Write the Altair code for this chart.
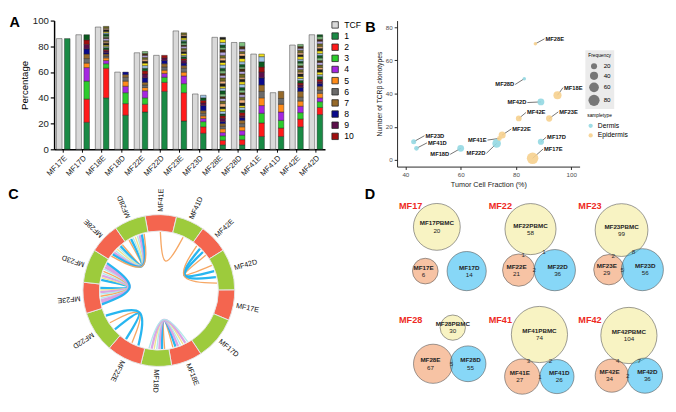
import math
import numpy as np
import pandas as pd
import altair as alt

FONT = "Liberation Sans"

# ---------------- Panel A : TCF and clone percentages ----------------
SAMPLES = ["MF17E", "MF17D", "MF18E", "MF18D", "MF22E", "MF22D", "MF23E",
           "MF23D", "MF28E", "MF28D", "MF41E", "MF41D", "MF42E", "MF42D"]
TCF = [86, 89, 95, 60, 75, 73, 92, 43, 87, 83, 74, 44, 81, 89]

CLONES_MF17E = [86]
CLONES_MF17D = [21, 18, 14, 10.5, 3.5, 3.5, 3.5, 4, 3.5, 3.5, 4]
CLONES_MF18E = [40, 23, 3.5, 2.5, 2, 1.5, 1.5, 1, 1.5, 1, 1.5, 1, 1, 1.5, 1, 1, 1.5,
                1, 1, 1.5, 1, 1, 1.5, 1, 1.5]
CLONES_MF18D = [26.5, 9, 8.5, 5, 4, 3, 2, 2]
CLONES_MF22E = [29, 6, 5, 5.5, 2.5, 2, 2, 3.5, 3, 2.5, 2, 2, 2, 1.5, 1.5, 1.5, 1.5, 1.5, 1.5]
CLONES_MF22D = [45, 7, 4, 3, 2.5, 2.5, 2.5, 2.5, 2, 2]
CLONES_MF23E = [22, 22, 7, 6, 3, 3, 2, 2, 2, 1.5, 1.5, 1, 1.5, 1.5, 1, 1.5, 1.5, 1, 1.5,
                1.5, 1, 1.5, 1.5, 1, 1.5]
CLONES_MF23D = [12.5, 5, 4, 2.5, 2, 2, 2, 4, 2, 2, 2, 2]
CLONES_MF28E = [3.5, 3.5, 3.5, 2.5, 3, 2, 2, 1.5, 2.5, 2, 1.5, 2, 2, 1.5, 2.5, 2, 2, 1.5,
                2, 2.5, 2, 1.5, 2, 2, 2.5, 2, 1.5, 2, 2, 2.5, 2, 1.5, 2, 2, 2.5, 2, 1.5,
                2, 2, 2.5, 1.5]
CLONES_MF28D = [3.5, 4, 3.5, 3.5, 3, 2.5, 2.5, 2, 1.5, 2.5, 2, 2, 1.5, 2, 2.5, 2, 2, 1.5,
                2, 2, 2.5, 2, 2, 1.5, 2.5, 2, 2, 1.5, 2, 2, 2.5, 2, 2, 1.5, 2, 2, 3]
CLONES_MF41E = [10, 10.5, 7.5, 6, 6, 5, 5, 5.5, 4.5, 4, 4, 4, 2]
CLONES_MF41D = [10, 6.5, 6, 6.5, 6, 4.5, 5.5]
CLONES_MF42E = [17.5, 6, 5, 5, 4, 3, 4.5, 3, 2, 1.5, 2, 1.5, 1.5, 2, 1.5, 2, 1.5, 1.5, 2,
                1.5, 1.5, 2, 1.5, 1.5, 2, 1.5, 1.5, 1.5]
CLONES_MF42D = [27, 5.5, 4.5, 3, 3.5, 2.5, 3, 2, 1.5, 2, 2, 1.5, 2, 2, 1.5, 2, 2, 1.5, 2,
                2, 1.5, 2, 2, 1.5, 2, 2, 1.5, 2, 1.5]

CLONES = {
    "MF17E": CLONES_MF17E, "MF17D": CLONES_MF17D, "MF18E": CLONES_MF18E,
    "MF18D": CLONES_MF18D, "MF22E": CLONES_MF22E, "MF22D": CLONES_MF22D,
    "MF23E": CLONES_MF23E, "MF23D": CLONES_MF23D, "MF28E": CLONES_MF28E,
    "MF28D": CLONES_MF28D, "MF41E": CLONES_MF41E, "MF41D": CLONES_MF41D,
    "MF42E": CLONES_MF42E, "MF42D": CLONES_MF42D,
}

TCF_COLOR = "#d9d9d9"
CLONE_COLORS = ["#1a8a45", "#ff1a1a", "#2ccc2c", "#a526e0", "#ff8c1a",
                "#6b6b6b", "#966a2a", "#0a0a8c", "#5c0f4a", "#a10f0f"]
EXTRA_COLORS = ["#0b5a1e", "#9fc5e8", "#f2e21a", "#1c1c1c", "#f2b27c",
                "#6e6a1f", "#b7a7e0", "#4a2c0f", "#7fbf7f"]

# ---------------- Panel B ----------------
B_NCLONO = [1, 11, 39, 7, 15, 10, 25, 11, 70, 49, 13, 7, 25, 35]
B_TYPE = ["Epidermis" if s.endswith("E") else "Dermis" for s in SAMPLES]

# ---------------- Panel C : chord diagram ----------------
C_ORDER = ["MF41E", "MF41D", "MF42E", "MF42D", "MF17E", "MF17D", "MF18E",
           "MF18D", "MF22E", "MF22D", "MF23E", "MF23D", "MF28E", "MF28D"]
C_SPAN = [24, 22, 22.4, 31.7, 23.4, 33.5, 23.8, 23.5, 27, 31.8, 23.8, 25.7, 23.4, 24.1]

ORANGE, BLUE, YELLOW, CYAN, LAVENDER = "#f6a25c", "#1cb2ef", "#efe28a", "#aee8ea", "#d9a0e3"
LINKS_MF41 = [ORANGE]
LINKS_MF42 = [ORANGE, BLUE, BLUE, ORANGE]
LINKS_MF18 = [ORANGE, BLUE, LAVENDER, CYAN, YELLOW, LAVENDER, CYAN]
LINKS_MF22 = [BLUE, ORANGE, BLUE]
LINKS_MF23 = [BLUE, YELLOW, LAVENDER, CYAN, ORANGE, CYAN, LAVENDER, LAVENDER, BLUE]
LINKS_MF28 = [ORANGE, BLUE, CYAN, YELLOW, CYAN, LAVENDER, BLUE, ORANGE]
C_LINKS = {"MF41": LINKS_MF41, "MF42": LINKS_MF42, "MF18": LINKS_MF18,
           "MF22": LINKS_MF22, "MF23": LINKS_MF23, "MF28": LINKS_MF28}

# ---------------- Panel D : Venn diagrams ----------------
VENN_NAMES = ["MF17", "MF22", "MF23", "MF28", "MF41", "MF42"]
VENN_PBMC = [20, 58, 99, 30, 74, 104]
VENN_E = [6, 21, 29, 67, 27, 34]
VENN_D = [14, 36, 56, 55, 26, 36]
VENN_PE = [0, 1, 2, 0, 3, 4]
VENN_PD = [0, 1, 8, 0, 2, 7]
VENN_ED = [0, 2, 5, 5, 1, 2]


def letter(t, align, offset):
    return alt.TitleParams(t, orient="left", anchor="end", angle=0, align=align,
                           baseline="top", offset=offset, fontSize=15, fontWeight="bold",
                           font=FONT, color="#000")


# ======================= Panel A chart =======================
def clone_key(i):
    return str(i) if i <= 10 else "x%d" % ((i - 11) % len(EXTRA_COLORS))


rowsA = []
for s, t in zip(SAMPLES, TCF):
    rowsA.append({"sample": s, "kind": "TCF", "y0": 0.0, "y1": float(t), "key": "TCF", "idx": 0})
    cum = 0.0
    for i, v in enumerate(CLONES[s], start=1):
        rowsA.append({"sample": s, "kind": "clone", "y0": cum, "y1": cum + v,
                      "key": clone_key(i), "idx": i})
        cum += v
dfA = pd.DataFrame(rowsA)
keysA = ["TCF"] + [str(i) for i in range(1, 11)] + ["x%d" % j for j in range(len(EXTRA_COLORS))]
colorsA = [TCF_COLOR] + CLONE_COLORS + EXTRA_COLORS

chartA = alt.Chart(dfA).mark_bar(stroke="#222222", strokeWidth=0.45).encode(
    x=alt.X("sample:N", sort=SAMPLES,
            scale=alt.Scale(paddingInner=0.3, paddingOuter=0.12),
            axis=alt.Axis(title=None, labelAngle=-45, labelFontSize=8, labelPadding=2,
                          tickSize=3, domainWidth=1.5, domainColor="#000",
                          tickColor="#000", labelColor="#222")),
    xOffset=alt.XOffset("kind:N", sort=["TCF", "clone"], scale=alt.Scale(paddingInner=0.3)),
    y=alt.Y("y0:Q", scale=alt.Scale(domain=[0, 100], nice=False),
            axis=alt.Axis(title="Percentage", values=[0, 20, 40, 60, 80, 100],
                          labelFontSize=10, titleFontSize=10, titleFontWeight="normal",
                          domainWidth=1.5, domainColor="#000", tickColor="#000",
                          tickWidth=1.2, tickSize=4, labelColor="#222", titlePadding=3)),
    y2="y1:Q",
    color=alt.Color("key:N", scale=alt.Scale(domain=keysA, range=colorsA),
                    legend=alt.Legend(values=["TCF"] + [str(i) for i in range(1, 11)],
                                      title=None, symbolType="square", symbolSize=45,
                                      symbolStrokeColor="#222", symbolStrokeWidth=0.8,
                                      labelFontSize=9, rowPadding=0.6, offset=6,
                                      padding=0, labelOffset=5)),
).properties(width=282, height=134, title=letter("A", "left", 0))

# ======================= Panel B chart =======================
B_LABEL_END = {
    "MF17E": (3.8, 5.6), "MF17D": (1.9, 2.7), "MF18E": (2.0, 4.6), "MF18D": (-3.8, -3.6),
    "MF22E": (3.3, 3.7), "MF22D": (-3.7, -6.0), "MF23E": (3.3, 4.0), "MF23D": (3.9, 3.6),
    "MF28E": (3.3, 3.0), "MF28D": (-3.3, -3.5), "MF41E": (-4.3, -1.0), "MF41D": (3.8, 3.3),
    "MF42E": (2.6, 3.6), "MF42D": (-4.9, -0.4),
}
dfB = pd.DataFrame({"sample": SAMPLES, "x": TCF, "y": B_NCLONO,
                    "freq": [CLONES[s][0] for s in SAMPLES], "type": B_TYPE})
dfB["lx"] = [x + B_LABEL_END[s][0] for s, x in zip(dfB["sample"], dfB["x"])]
dfB["ly"] = [y + B_LABEL_END[s][1] for s, y in zip(dfB["sample"], dfB["y"])]
dfB["side"] = [1 if B_LABEL_END[s][0] > 0 else -1 for s in dfB["sample"]]

W_B, H_B = 190, 152
axBx = alt.Axis(title="Tumor Cell Fraction (%)", values=[40, 60, 80, 100], labelFontSize=6.5,
                titleFontSize=7.5, titleFontWeight="normal", labelColor="#4d4d4d",
                titleColor="#222", domainColor="#222", tickColor="#222", tickSize=3,
                titlePadding=3)
axBy = alt.Axis(title="Number of TCRβ clonotypes", values=[0, 20, 40, 60, 80],
                labelFontSize=6.5, titleFontSize=7, titleFontWeight="normal",
                labelColor="#4d4d4d", titleColor="#222", domainColor="#222",
                tickColor="#222", tickSize=3, titlePadding=3)
scBx = alt.Scale(domain=[37, 103], nice=False, zero=False)
scBy = alt.Scale(domain=[-4, 84], nice=False, zero=False)

ptsB = alt.Chart(dfB).mark_circle(opacity=0.9).encode(
    x=alt.X("x:Q", scale=scBx, axis=axBx),
    y=alt.Y("y:Q", scale=scBy, axis=axBy),
    size=alt.Size("freq:Q", scale=alt.Scale(domain=[0, 90], range=[8, 150]),
                  legend=alt.Legend(title="Frequency", values=[20, 40, 60, 80],
                                    titleFontSize=5, titleFontWeight="normal",
                                    labelFontSize=6.5, symbolFillColor="#777777",
                                    symbolStrokeWidth=0, symbolOpacity=1,
                                    fillColor="#ebebeb", padding=3,
                                    orient="none", legendX=W_B + 6, legendY=31)),
    color=alt.Color("type:N", scale=alt.Scale(domain=["Dermis", "Epidermis"],
                                              range=["#93d8e2", "#f6d08e"]),
                    legend=alt.Legend(title="sampletype", titleFontSize=5,
                                      titleFontWeight="normal", labelFontSize=7,
                                      symbolType="circle", symbolSize=20, padding=2,
                                      orient="none", legendX=W_B + 6, legendY=94)),
    order=alt.Order("freq:Q", sort="descending"),
)
rulesB = alt.Chart(dfB).mark_rule(color="#111", strokeWidth=0.6).encode(
    x=alt.X("x:Q", scale=scBx, axis=axBx), y=alt.Y("y:Q", scale=scBy, axis=axBy),
    x2="lx:Q", y2="ly:Q")
txtR = alt.Chart(dfB).transform_filter("datum.side > 0").mark_text(
    align="left", baseline="middle", dx=1, fontSize=6, fontWeight="bold", color="#111").encode(
    x=alt.X("lx:Q", scale=scBx, axis=axBx), y=alt.Y("ly:Q", scale=scBy, axis=axBy),
    text="sample:N")
txtL = alt.Chart(dfB).transform_filter("datum.side < 0").mark_text(
    align="right", baseline="middle", dx=-1, fontSize=6, fontWeight="bold", color="#111").encode(
    x=alt.X("lx:Q", scale=scBx, axis=axBx), y=alt.Y("ly:Q", scale=scBy, axis=axBy),
    text="sample:N")
chartB = alt.layer(rulesB, ptsB, txtR, txtL).properties(
    width=W_B, height=H_B, title=letter("B", "left", 0))

# ======================= Panel C chart =======================
W_C, H_C = 218, 214
R_OUT, R_IN, R_LAB, START_DEG = 79, 62, 82, -10.5
tot = float(sum(C_SPAN))
cum = np.concatenate([[0.0], np.cumsum(C_SPAN)])
seg_start = START_DEG + 360.0 * cum[:-1] / tot
seg_end = START_DEG + 360.0 * cum[1:] / tot
mid = (seg_start + seg_end) / 2
dfRing = pd.DataFrame({"seg": C_ORDER, "span": C_SPAN, "idx": range(len(C_ORDER)),
                       "col": ["#f4654f" if s.endswith("E") else "#9dcb3c" for s in C_ORDER],
                       "ang": [(m - 90) % 360 for m in mid]})

rowsL = []
lid = 0
for pat, cols in C_LINKS.items():
    iE = C_ORDER.index(pat + "E")
    iD = C_ORDER.index(pat + "D")
    b = seg_end[iE]
    n = len(cols)
    for k, c in enumerate(cols):
        f = 0.12 + 0.76 * (k + 0.5) / n
        aE = math.radians(b - f * C_SPAN[iE] * 360.0 / tot)
        aD = math.radians(b + f * C_SPAN[iD] * 360.0 / tot)
        ab = math.radians(b)
        rc = 0.28 * R_IN
        pts = [(R_IN - 1) * math.sin(aE), (R_IN - 1) * math.cos(aE),
               rc * math.sin(ab), rc * math.cos(ab),
               (R_IN - 1) * math.sin(aD), (R_IN - 1) * math.cos(aD)]
        w = 2.4 if c in (BLUE, LAVENDER) else 1.4
        for j in range(3):
            rowsL.append({"link": lid, "k": j, "x": pts[2 * j], "y": pts[2 * j + 1],
                          "col": c, "w": w})
        lid += 1
dfLinks = pd.DataFrame(rowsL)

thetaC = alt.Theta("span:Q", stack=True,
                   scale=alt.Scale(range=[math.radians(START_DEG),
                                          math.radians(START_DEG) + 2 * math.pi]))
ring = alt.Chart(dfRing).mark_arc(outerRadius=R_OUT, innerRadius=R_IN,
                                  stroke="#e6e6e6", strokeWidth=1).encode(
    theta=thetaC, order=alt.Order("idx:Q"), color=alt.Color("col:N", scale=None))
ringTxt = alt.Chart(dfRing).mark_text(radius=R_LAB, align="left", baseline="middle",
                                      fontSize=7.5, color="#111").encode(
    theta=thetaC, order=alt.Order("idx:Q"), text="seg:N",
    angle=alt.Angle("ang:Q", scale=None))
links = alt.Chart(dfLinks).mark_line(interpolate="basis", opacity=0.95).encode(
    x=alt.X("x:Q", scale=alt.Scale(domain=[-W_C / 2, W_C / 2], nice=False, zero=False), axis=None),
    y=alt.Y("y:Q", scale=alt.Scale(domain=[-H_C / 2, H_C / 2], nice=False, zero=False), axis=None),
    detail="link:N", order="k:Q",
    color=alt.Color("col:N", scale=None),
    strokeWidth=alt.StrokeWidth("w:Q", scale=None))
chartC = alt.layer(links, ring, ringTxt).properties(
    width=W_C, height=H_C, title=letter("C", "right", 26))

# ======================= Panel D chart =======================
W_D, H_D = 280, 214
R_REF = 33.0
P_FILL, E_FILL, D_FILL = "#f2e88c", "#f08c50", "#19b3ef"


def venn_layout(nP, nE, nD, nPE, nPD, nED, R):
    tP, tE, tD = nP + nPE + nPD, nE + nPE + nED, nD + nPD + nED
    m = float(max(tP, tE, tD))
    rP, rE, rD = (R * math.sqrt(t / m) for t in (tP, tE, tD))

    def dist(r1, r2, n):
        return r1 + r2 - (2 + 2.5 * math.sqrt(n)) if n > 0 else r1 + r2 + 5

    dED, dPE, dPD = dist(rE, rD, nED), dist(rP, rE, nPE), dist(rP, rD, nPD)
    a = (dPE ** 2 - dPD ** 2 + dED ** 2) / (2 * dED)
    h = math.sqrt(max(dPE ** 2 - a ** 2, 0))
    cen = {"P": (a, -h), "E": (0.0, 0.0), "D": (dED, 0.0)}
    rad = {"P": rP, "E": rE, "D": rD}
    return cen, rad, (dED, dPE, dPD)


circ, names, counts, inters, titles = [], [], [], [], []
cw, ch = W_D / 3.0, H_D / 2.0
for vi, v in enumerate(VENN_NAMES):
    args = (VENN_PBMC[vi], VENN_E[vi], VENN_D[vi], VENN_PE[vi], VENN_PD[vi], VENN_ED[vi])
    R = R_REF
    while True:
        cen, rad, (dED, dPE, dPD) = venn_layout(*args, R)
        x0 = min(cen[k][0] - rad[k] for k in cen); x1 = max(cen[k][0] + rad[k] for k in cen)
        y0 = min(cen[k][1] - rad[k] for k in cen); y1 = max(cen[k][1] + rad[k] for k in cen)
        if (y1 - y0) <= 98 and (x1 - x0) <= 82:
            break
        R -= 0.5
    col, row = vi % 3, vi // 3
    ox = col * cw + cw / 2 + 6 - (x0 + x1) / 2
    oy = row * ch + ch / 2 + 8 - (y0 + y1) / 2
    C = {k: (cen[k][0] + ox, cen[k][1] + oy) for k in cen}
    nums = {"P": VENN_PBMC[vi], "E": VENN_E[vi], "D": VENN_D[vi]}
    lbl = {"P": v + "PBMC", "E": v + "E", "D": v + "D"}
    fills = {"P": P_FILL, "E": E_FILL, "D": D_FILL}
    for o, k in enumerate(["P", "E", "D"]):
        circ.append({"cx": C[k][0], "cy": C[k][1], "frac": (rad[k] / R_REF) ** 2,
                     "fill": fills[k], "ord": o})
        sx = {"P": 0.0, "E": -0.12 * rad["E"], "D": 0.12 * rad["D"]}[k]
        names.append({"cx": C[k][0] + sx, "cy": C[k][1] - 3.5, "t": lbl[k]})
        counts.append({"cx": C[k][0] + sx, "cy": C[k][1] + 4, "t": str(nums[k])})
    if VENN_ED[vi] > 0:
        inters.append({"cx": C["E"][0] + (dED + rad["E"] - rad["D"]) / 2, "cy": C["E"][1],
                       "t": str(VENN_ED[vi])})
    for k, n, dd in (("E", VENN_PE[vi], dPE), ("D", VENN_PD[vi], dPD)):
        if n > 0:
            ux, uy = C["P"][0] - C[k][0], C["P"][1] - C[k][1]
            L = math.hypot(ux, uy)
            s = (dd + rad[k] - rad["P"]) / 2
            inters.append({"cx": C[k][0] + ux / L * s, "cy": C[k][1] + uy / L * s,
                           "t": str(n)})
    titles.append({"cx": col * cw, "cy": row * ch + 19 + 12 * row, "t": v})

scDx = alt.Scale(domain=[0, W_D], nice=False, zero=False)
scDy = alt.Scale(domain=[0, H_D], nice=False, zero=False, reverse=True)


def dxy():
    return dict(x=alt.X("cx:Q", scale=scDx, axis=None), y=alt.Y("cy:Q", scale=scDy, axis=None))


circD = alt.Chart(pd.DataFrame(circ)).mark_circle(
    opacity=1, fillOpacity=0.52, stroke="#555555", strokeWidth=0.6, strokeOpacity=1).encode(
    **dxy(), color=alt.Color("fill:N", scale=None),
    size=alt.Size("frac:Q", scale=alt.Scale(domain=[0, 1], range=[0, math.pi * R_REF ** 2]),
                  legend=None),
    order=alt.Order("ord:Q"))
namesD = alt.Chart(pd.DataFrame(names)).mark_text(
    fontSize=6.5, fontWeight="bold", color="#222").encode(**dxy(), text="t:N")
countsD = alt.Chart(pd.DataFrame(counts)).mark_text(
    fontSize=6.5, color="#222").encode(**dxy(), text="t:N")
intersD = alt.Chart(pd.DataFrame(inters)).mark_text(
    fontSize=6.5, color="#333").encode(**dxy(), text="t:N")
titlesD = alt.Chart(pd.DataFrame(titles)).mark_text(
    fontSize=9.5, fontWeight="bold", color="#ee2a24", align="left").encode(**dxy(), text="t:N")
chartD = alt.layer(circD, namesD, countsD, intersD, titlesD).properties(
    width=W_D, height=H_D, title=letter("D", "right", 14))

# ======================= compose =======================
chart = alt.concat(chartA, chartB, chartC, chartD, columns=2, align="none",
                   spacing={"row": 0, "column": 3}).resolve_scale(
    color="independent", size="independent", theta="independent").properties(
    padding=0).configure(font=FONT).configure_view(stroke=None).configure_axis(
    grid=False, labelFont=FONT, titleFont=FONT).configure_legend(
    labelFont=FONT, titleFont=FONT)

chart.save("out.html", embed_options={"renderer": "svg", "actions": False})
